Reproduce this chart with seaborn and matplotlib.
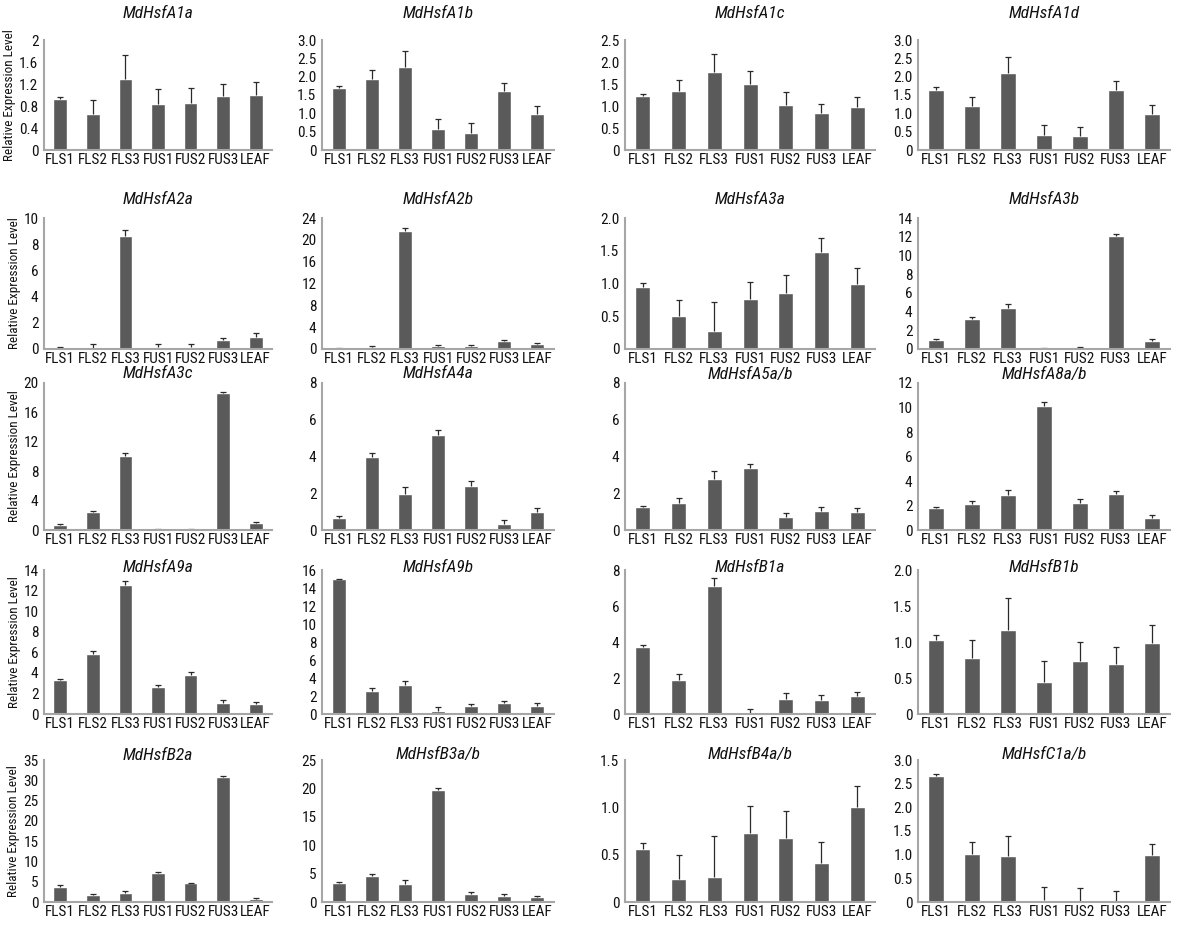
import numpy as np
import matplotlib
matplotlib.use("Agg")
import matplotlib.pyplot as plt
import seaborn as sns

# ==============================
# Data
# ==============================
samples = ["FLS1", "FLS2", "FLS3", "FUS1", "FUS2", "FUS3", "LEAF"]

genes = [
    "MdHsfA1a", "MdHsfA1b", "MdHsfA1c", "MdHsfA1d",
    "MdHsfA2a", "MdHsfA2b", "MdHsfA3a", "MdHsfA3b",
    "MdHsfA3c", "MdHsfA4a", "MdHsfA5a/b", "MdHsfA8a/b",
    "MdHsfA9a", "MdHsfA9b", "MdHsfB1a", "MdHsfB1b",
    "MdHsfB2a", "MdHsfB3a/b", "MdHsfB4a/b", "MdHsfC1a/b",
]

means = [
    [0.92, 0.66, 1.30, 0.83, 0.85, 0.99, 1.00],
    [1.68, 1.93, 2.26, 0.58, 0.46, 1.60, 0.99],
    [1.22, 1.34, 1.77, 1.51, 1.03, 0.83, 0.98],
    [1.65, 1.20, 2.11, 0.40, 0.38, 1.65, 0.99],
    [0.12, 0.10, 8.65, 0.15, 0.15, 0.65, 0.95],
    [0.05, 0.30, 21.7, 0.60, 0.60, 1.40, 0.90],
    [0.95, 0.50, 0.28, 0.76, 0.86, 1.48, 0.99],
    [1.00, 3.25, 4.40, 0.03, 0.03, 12.1, 0.90],
    [0.65, 2.45, 10.05, 0.06, 0.06, 18.6, 0.90],
    [0.65, 4.00, 1.95, 5.15, 2.40, 0.30, 1.00],
    [1.25, 1.45, 2.75, 3.35, 0.70, 1.05, 1.00],
    [1.80, 2.15, 2.85, 10.1, 2.20, 2.95, 0.95],
    [3.35, 5.85, 12.5, 2.60, 3.75, 1.10, 0.95],
    [14.95, 2.60, 3.20, 0.35, 0.85, 1.25, 0.90],
    [3.75, 1.90, 7.10, 0.02, 0.85, 0.80, 1.00],
    [1.03, 0.78, 1.17, 0.45, 0.74, 0.70, 0.99],
    [3.80, 1.70, 2.30, 7.10, 4.60, 30.8, 0.70],
    [3.30, 4.60, 3.20, 19.8, 1.40, 1.10, 0.80],
    [0.565, 0.245, 0.265, 0.73, 0.68, 0.41, 1.00],
    [2.66, 1.02, 0.98, 0.05, 0.02, 0.02, 1.00],
]

errors = [
    [0.05, 0.25, 0.42, 0.28, 0.28, 0.21, 0.24],
    [0.06, 0.25, 0.43, 0.27, 0.27, 0.22, 0.22],
    [0.05, 0.25, 0.42, 0.28, 0.28, 0.21, 0.23],
    [0.07, 0.25, 0.44, 0.28, 0.26, 0.23, 0.23],
    [0.05, 0.30, 0.40, 0.25, 0.25, 0.20, 0.25],
    [0.05, 0.30, 0.40, 0.20, 0.20, 0.30, 0.15],
    [0.06, 0.25, 0.43, 0.27, 0.27, 0.22, 0.24],
    [0.05, 0.20, 0.40, 0.10, 0.20, 0.20, 0.20],
    [0.10, 0.20, 0.45, 0.05, 0.05, 0.20, 0.25],
    [0.10, 0.20, 0.40, 0.30, 0.25, 0.25, 0.20],
    [0.05, 0.30, 0.45, 0.25, 0.25, 0.20, 0.20],
    [0.05, 0.25, 0.45, 0.35, 0.30, 0.25, 0.30],
    [0.10, 0.25, 0.45, 0.25, 0.30, 0.25, 0.25],
    [0.05, 0.30, 0.45, 0.40, 0.30, 0.20, 0.30],
    [0.08, 0.30, 0.45, 0.25, 0.30, 0.25, 0.20],
    [0.07, 0.25, 0.44, 0.28, 0.26, 0.23, 0.24],
    [0.30, 0.20, 0.40, 0.20, 0.20, 0.20, 0.20],
    [0.20, 0.35, 0.60, 0.25, 0.30, 0.30, 0.30],
    [0.06, 0.255, 0.43, 0.28, 0.28, 0.22, 0.23],
    [0.05, 0.24, 0.42, 0.27, 0.27, 0.22, 0.22],
]

ymax = [2, 3, 2.5, 3, 10, 24, 2, 14, 20, 8, 8, 12, 14, 16, 8, 2, 35, 25, 1.5, 3]
ystep = [0.4, 0.5, 0.5, 0.5, 2, 4, 0.5, 2, 4, 2, 2, 2, 2, 2, 2, 0.5, 5, 5, 0.5, 0.5]

# ==============================
# Style
# ==============================
sns.set_style("white")
plt.rcParams["font.family"] = ["Roboto Condensed", "Liberation Sans", "DejaVu Sans"]

bar_color = "#5a5a5a"
axis_color = "#a6a6a6"

fig = plt.figure(figsize=(12, 9.35), dpi=100)

# panel geometry in pixels (from top-left)
col_left = [44, 322, 625, 918]
col_width = [228, 232, 250, 252]
row_top = [40, 218, 383, 570, 760]
row_zero = [150, 349, 530, 714, 902]
title_y = [14, 200, 374, 567, 755]

for i, gene in enumerate(genes):
    r, c = divmod(i, 4)
    h = row_zero[r] - row_top[r]
    rect = [col_left[c] / 1200, 1 - row_zero[r] / 935, col_width[c] / 1200, h / 935]
    ax = fig.add_axes(rect)

    sns.barplot(
        x=samples,
        y=means[i],
        color=bar_color,
        saturation=1,
        width=0.42,
        ax=ax,
    )

    eb = ax.errorbar(
        np.arange(len(samples)),
        means[i],
        yerr=[np.zeros(len(samples)), errors[i]],
        fmt="none",
        ecolor="#2a2a2a",
        elinewidth=0.9,
        capsize=2,
        capthick=0.9,
    )
    eb[1][0].set_visible(False)

    ax.set_xlim(-0.5, 6.5)
    ax.set_ylim(0, ymax[i])

    ticks = np.arange(0, ymax[i] + ystep[i] / 2, ystep[i])
    if ystep[i] == 0.5:
        labels = ["0"] + ["%.1f" % t for t in ticks[1:]]
    else:
        labels = ["%g" % t for t in ticks]
    ax.set_yticks(ticks)
    ax.set_yticklabels(labels)

    # category-boundary ticks on x like the original spreadsheet chart
    ax.set_xticks(np.arange(-0.5, 7, 1), minor=True)
    ax.tick_params(axis="x", which="major", length=0, labelsize=11, pad=2, labelcolor="#111111")
    ax.tick_params(axis="x", which="minor", length=4, width=1.2, color=axis_color)
    ax.tick_params(axis="y", length=3, width=1.2, color=axis_color, labelsize=11,
                   pad=1, labelcolor="#111111")

    for side in ["top", "right"]:
        ax.spines[side].set_visible(False)
    for side in ["left", "bottom"]:
        ax.spines[side].set_color(axis_color)
        ax.spines[side].set_linewidth(1.5)

    ax.set_xlabel("")
    fig.text(
        (col_left[c] + col_width[c] / 2) / 1200,
        1 - title_y[r] / 935,
        gene,
        style="italic",
        fontsize=12.5,
        ha="center",
        va="center",
        color="#111111",
    )

    if c == 0:
        ax.set_ylabel("Relative Expression Level", fontsize=9.5, labelpad=2, color="#111111")
    else:
        ax.set_ylabel("")

plt.savefig("out.png", dpi=100)
plt.close()
